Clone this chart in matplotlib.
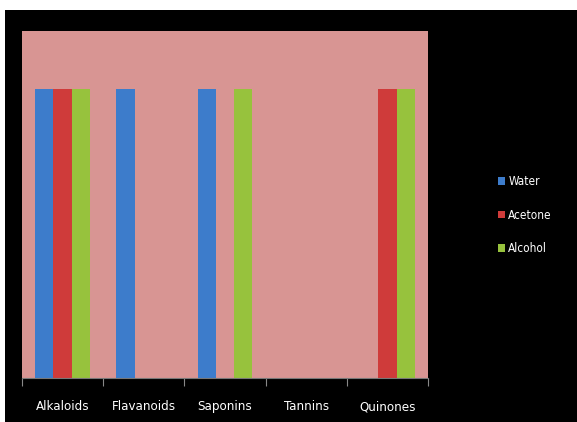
import matplotlib.pyplot as plt
import numpy as np
from matplotlib.patches import Rectangle

# phytochemical screening: present = 1, absent = 0
categories = ["Alkaloids", "Flavanoids", "Saponins", "Tannins", "Quinones"]
water = [1, 1, 1, 0, 0]
acetone = [1, 0, 0, 0, 1]
alcohol = [1, 0, 1, 0, 1]

series = [("Water", water, "#3D7CCB"),
          ("Acetone", acetone, "#CF3B3A"),
          ("Alcohol", alcohol, "#97C23D")]

plt.rcParams['font.family'] = ['DejaVu Sans']
plt.rcParams['font.stretch'] = 'condensed'

fig = plt.figure(figsize=(5.77, 4.22), dpi=100, facecolor="white")
# black chart area below a thin white strip
fig.patches.append(Rectangle((5/577, 0), 1, 412/422, transform=fig.transFigure,
                             facecolor="black", edgecolor="none", zorder=-5))

ax = fig.add_axes([22/577, 44/422, 406/577, 347/422])
ax.set_facecolor("#D89593")

x = np.arange(len(categories))
w = 0.225
for i, (name, vals, col) in enumerate(series):
    ax.bar(x + (i - 1) * w, vals, w, color=col, linewidth=0,
           label=name, zorder=2)

ax.set_xlim(-0.5, len(categories) - 0.5)
ax.set_ylim(0, 1.2)
ax.set_yticks([])
ax.set_xticks(np.arange(-0.5, len(categories)), minor=False)
ax.set_xticklabels([])
ax.set_xticks(x, minor=True)
ax.set_xticklabels(categories, minor=True, color="white", fontsize=9.5)
ax.tick_params(axis="x", which="major", length=6, color="#888888", direction="out")
ax.tick_params(axis="x", which="minor", length=0, pad=16)
for s in ["top", "right", "left"]:
    ax.spines[s].set_visible(False)
ax.spines["bottom"].set_color("#777777")

leg = fig.legend(loc="center left", bbox_to_anchor=(0.845, 0.49), frameon=False,
                 fontsize=8.5, labelcolor="white", handlelength=0.6, handleheight=0.6,
                 handletextpad=0.25, labelspacing=1.75)

fig.savefig("out.png", dpi=100, facecolor=fig.get_facecolor())
